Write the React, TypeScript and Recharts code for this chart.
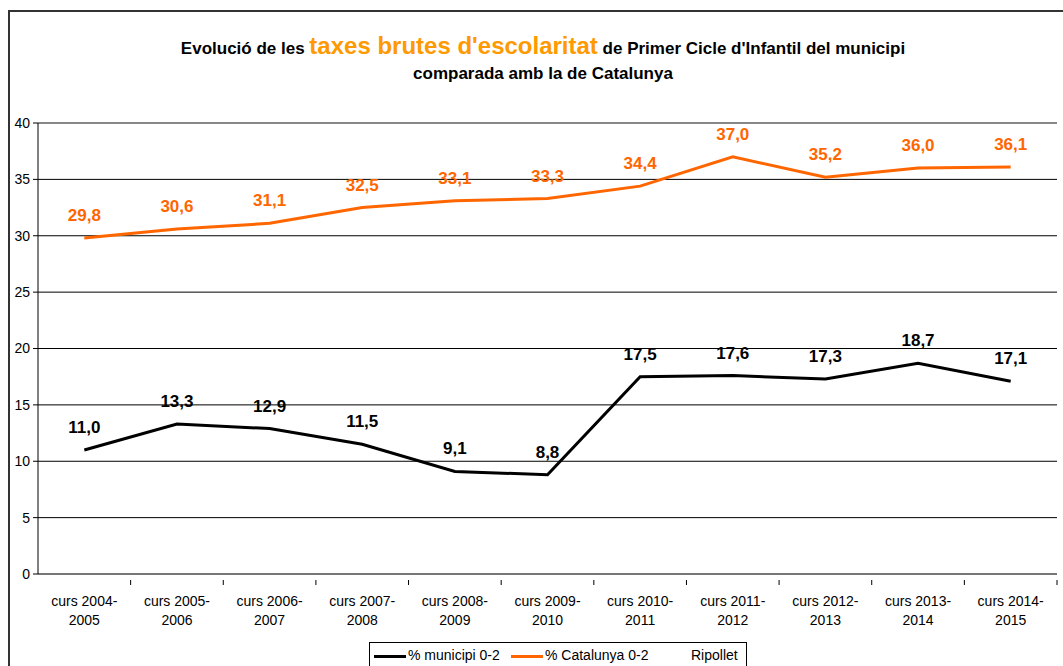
import React from 'react'
import {
	LineChart,
	Line,
	XAxis,
	YAxis,
	CartesianGrid,
	LabelList,
	ReferenceLine,
} from 'recharts'

const categories = [
	'curs 2004-2005',
	'curs 2005-2006',
	'curs 2006-2007',
	'curs 2007-2008',
	'curs 2008-2009',
	'curs 2009-2010',
	'curs 2010-2011',
	'curs 2011-2012',
	'curs 2012-2013',
	'curs 2013-2014',
	'curs 2014-2015',
]
const municipi = [11.0, 13.3, 12.9, 11.5, 9.1, 8.8, 17.5, 17.6, 17.3, 18.7, 17.1]
const catalunya = [29.8, 30.6, 31.1, 32.5, 33.1, 33.3, 34.4, 37.0, 35.2, 36.0, 36.1]
const yTicks = [0, 5, 10, 15, 20, 25, 30, 35, 40]

const data = categories.map((c, i) => ({
	curs: c,
	municipi: municipi[i],
	catalunya: catalunya[i],
}))

const font = '"Liberation Sans", Arial, sans-serif'
const BAND = (1057 - 38) / categories.length

const fmt = (v: any) => Number(v).toFixed(1).replace('.', ',')

const CursTick = (props: any) => {
	const { x, y, payload } = props
	const v: string = payload.value
	const idx = v.indexOf('-')
	const l1 = v.slice(0, idx + 1)
	const l2 = v.slice(idx + 1)
	return (
		<g>
			<line x1={x + BAND / 2} x2={x + BAND / 2} y1={y - 8} y2={y - 3} stroke='#000' />
			<text x={x} y={y} textAnchor='middle' fontSize={14} fill='#000' fontFamily={font}>
				<tspan x={x} dy={18}>{l1}</tspan>
				<tspan x={x} dy={19}>{l2}</tspan>
			</text>
		</g>
	)
}

export default function App() {
	return (
		<div
			style={{
				position: 'absolute',
				left: 0,
				top: 0,
				width: 1063,
				height: 666,
				overflow: 'hidden',
				background: '#fff',
				fontFamily: font,
			}}
		>
			<div
				style={{
					position: 'absolute',
					left: 8,
					top: 10,
					width: 1100,
					height: 700,
					border: '2px solid #333',
					boxSizing: 'border-box',
				}}
			/>
			<div
				style={{
					position: 'absolute',
					left: 0,
					top: 31,
					width: 1086,
					textAlign: 'center',
					fontWeight: 'bold',
					fontSize: 17,
					lineHeight: '30px',
					color: '#000',
				}}
			>
				<div>
					Evolució de les{' '}
					<span style={{ color: '#FF9900', fontSize: 24 }}>
						taxes brutes d'escolaritat
					</span>{' '}
					de Primer Cicle d'Infantil del municipi
				</div>
				<div style={{ lineHeight: '20px' }}>comparada amb la de Catalunya</div>
			</div>
			<div style={{ position: 'absolute', left: 0, top: 0 }}>
				<LineChart
					width={1063}
					height={666}
					data={data}
					margin={{ top: 123, right: 6, left: 8, bottom: 42 }}
				>
					<CartesianGrid vertical={false} stroke='#000' strokeWidth={1} />
					<ReferenceLine y={40} stroke='#888' strokeWidth={2} />
					<XAxis
						dataKey='curs'
						axisLine={{ stroke: '#777', strokeWidth: 2 }}
						tickLine={false}
						interval={0}
						height={50}
						padding={{ left: BAND / 2, right: BAND / 2 }}
						tick={<CursTick />}
						tickMargin={8}
					/>
					<YAxis
						domain={[0, 40]}
						ticks={yTicks}
						width={30}
						axisLine={{ stroke: '#000' }}
						tickLine={{ stroke: '#000' }}
						tickSize={5}
						tickMargin={3}
						tick={{ fill: '#000', fontSize: 14, fontFamily: font }}
					/>
					<YAxis
						yAxisId='r'
						orientation='right'
						domain={[0, 40]}
						width={0}
						tick={false}
						tickLine={false}
						axisLine={{ stroke: '#999', strokeWidth: 2 }}
					/>
					<Line
						dataKey='municipi'
						stroke='#000'
						strokeWidth={3}
						dot={false}
						isAnimationActive={false}
					>
						<LabelList
							dataKey='municipi'
							position='top'
							offset={17}
							formatter={fmt}
							fill='#000'
							fontSize={17}
							fontWeight='bold'
							fontFamily={font}
						/>
					</Line>
					<Line
						dataKey='catalunya'
						stroke='#FF6600'
						strokeWidth={3}
						dot={false}
						isAnimationActive={false}
					>
						<LabelList
							dataKey='catalunya'
							position='top'
							offset={17}
							formatter={fmt}
							fill='#FF6600'
							fontSize={17}
							fontWeight='bold'
							fontFamily={font}
						/>
					</Line>
				</LineChart>
			</div>
			<div
				style={{
					position: 'absolute',
					left: 369,
					top: 642,
					width: 378,
					height: 40,
					border: '1px solid #000',
					boxSizing: 'border-box',
					fontSize: 14,
					color: '#000',
				}}
			>
				<div style={{ position: 'absolute', left: 4, top: 12, width: 32, height: 3, background: '#000' }} />
				<div style={{ position: 'absolute', left: 38, top: 4 }}>% municipi 0-2</div>
				<div style={{ position: 'absolute', left: 141, top: 12, width: 32, height: 3, background: '#FF6600' }} />
				<div style={{ position: 'absolute', left: 175, top: 4 }}>% Catalunya 0-2</div>
				<div style={{ position: 'absolute', left: 321, top: 4 }}>Ripollet</div>
			</div>
		</div>
	)
}
